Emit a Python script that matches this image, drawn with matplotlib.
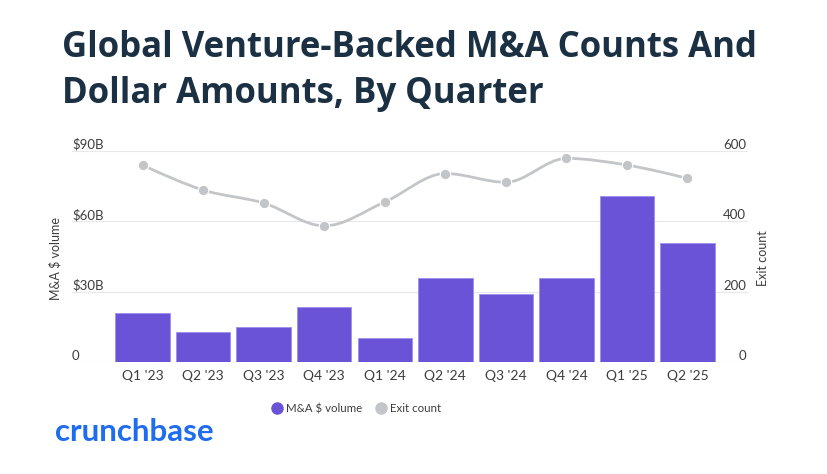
import matplotlib
matplotlib.use("Agg")
import matplotlib.pyplot as plt
import numpy as np
from matplotlib.path import Path
from matplotlib.patches import PathPatch
from matplotlib.lines import Line2D
import matplotlib.transforms as mtransforms

quarters = ["Q1 '23", "Q2 '23", "Q3 '23", "Q4 '23", "Q1 '24", "Q2 '24", "Q3 '24", "Q4 '24", "Q1 '25", "Q2 '25"]
volume_b = [21.1, 12.7, 14.8, 23.3, 10.1, 35.7, 29.0, 35.7, 71.0, 50.6]
exit_count = [560, 489, 452, 387, 455, 536, 511, 579, 560, 522]
left_ticks = [0, 30, 60, 90]
left_labels = ["0", "$30B", "$60B", "$90B"]
right_ticks = [0, 200, 400, 600]
right_labels = ["0", "200", "400", "600"]

FONT = ["Lato", "DejaVu Sans"]
plt.rcParams['font.family'] = FONT

BAR = "#6b53d8"
LINE = "#c3c6c8"
TXT = "#3d3d3d"
GRID = "#e8e8e8"

fig = plt.figure(figsize=(8.28, 4.74), dpi=100)
ax = fig.add_axes([72/828, 1-362/474, (748-72)/828, (362-151)/474])
ax2 = ax.twinx()

x = np.arange(len(quarters))
ax.bar(x, volume_b, width=0.9, color=BAR, edgecolor="#9d8ef0", linewidth=0.6, zorder=2)
ax.set_ylim(0, 90)
ax.set_xlim(-1.167, 10.0)
ax2.set_ylim(0, 600)

for a in (ax, ax2):
    for s in a.spines.values():
        s.set_visible(False)
    a.tick_params(length=0)
    a.set_yticks([])
for t in left_ticks:
    ax.axhline(t, color=GRID, lw=0.8, zorder=0)

ax.set_xticks(x)
ax.set_xticklabels(quarters, fontsize=10, color=TXT)
ax.tick_params(axis='x', pad=6)

trL = mtransforms.blended_transform_factory(ax.transAxes, ax.transData)
for t, lab in zip(left_ticks, left_labels):
    ax.text(0.0, t, lab, transform=trL, ha='left', va='bottom', fontsize=9.5, color=TXT)
trR = mtransforms.blended_transform_factory(ax2.transAxes, ax2.transData)
for t, lab in zip(right_ticks, right_labels):
    ax2.text(0.997, t, lab, transform=trR, ha='right', va='bottom', fontsize=9.5, color=TXT)

fig.text(55/828, 1-258/474, "M&A $ volume", rotation=90, ha='center', va='center', fontsize=9, color=TXT)
fig.text(763/828, 1-258/474, "Exit count", rotation=90, ha='center', va='center', fontsize=9, color=TXT)

# smooth monotone line (d3 monotoneX style) through the data points
xs = x.astype(float)
ys = np.array(exit_count, dtype=float)
n = len(xs)
m = np.zeros(n)
for i in range(1, n-1):
    h0 = xs[i]-xs[i-1]; h1 = xs[i+1]-xs[i]
    s0 = (ys[i]-ys[i-1])/h0; s1 = (ys[i+1]-ys[i])/h1
    p = (s0*h1 + s1*h0)/(h0+h1)
    m[i] = (np.sign(s0)+np.sign(s1))*min(abs(s0), abs(s1), 0.5*abs(p))
m[0] = (3*(ys[1]-ys[0])/(xs[1]-xs[0]) - m[1])/2
m[-1] = (3*(ys[-1]-ys[-2])/(xs[-1]-xs[-2]) - m[-2])/2
verts = [(xs[0], ys[0])]
codes = [Path.MOVETO]
for i in range(n-1):
    dx = xs[i+1]-xs[i]
    verts += [(xs[i]+dx/3, ys[i]+m[i]*dx/3), (xs[i+1]-dx/3, ys[i+1]-m[i+1]*dx/3), (xs[i+1], ys[i+1])]
    codes += [Path.CURVE4]*3
ax2.add_patch(PathPatch(Path(verts, codes), facecolor='none', edgecolor=LINE, lw=2, zorder=3))
ax2.plot(xs, ys, 'o', color=LINE, markersize=7.5, markeredgecolor='white', markeredgewidth=0.8, zorder=4)

# title
TFONT = ["Open Sans", "DejaVu Sans"]
t1 = fig.text(62/828, 1-57/474, "Global Venture-Backed M&A Counts And", fontsize=25, fontweight='bold',
              family=TFONT, color="#1b3143", ha='left', va='baseline')
t2 = fig.text(62/828, 1-103/474, "Dollar Amounts, By Quarter", fontsize=25, fontweight='bold',
              family=TFONT, color="#1b3143", ha='left', va='baseline')

# legend
handles = [Line2D([], [], marker='o', ls='none', color=BAR, markersize=8),
           Line2D([], [], marker='o', ls='none', color="#c3c6c8", markersize=8)]
fig.legend(handles, ["M&A $ volume", "Exit count"], loc='center', bbox_to_anchor=(356/828, 1-409/474),
           ncol=2, frameon=False, fontsize=8.3, handletextpad=0.3, columnspacing=1.1, labelcolor=TXT, handlelength=1.0)

fig.text(55/828, 1-441/474, "crunchbase", fontsize=22.5, fontweight='bold', color="#1f6cef", ha='left', va='baseline')

fig.savefig("out.png", dpi=100)
